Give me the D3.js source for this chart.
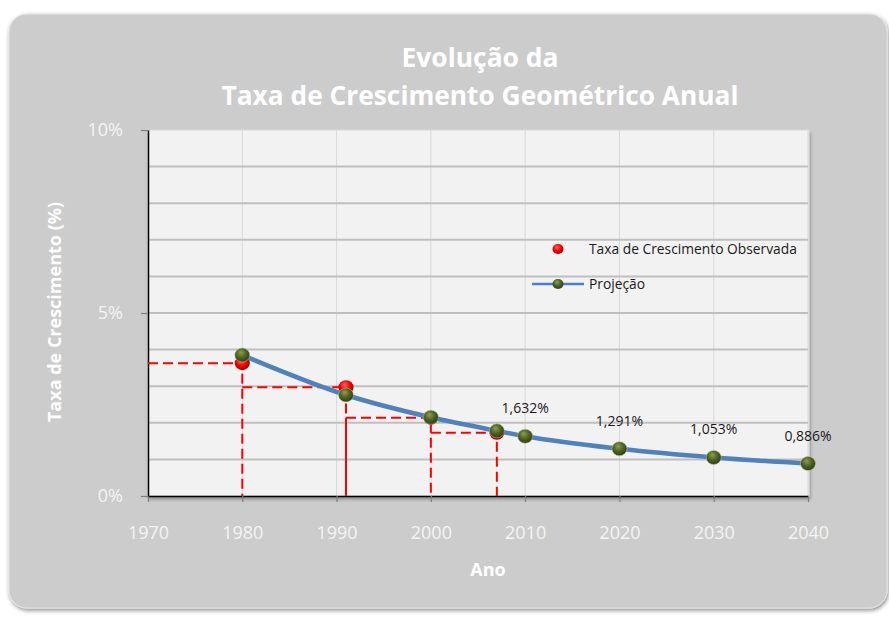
<!DOCTYPE html>
<html>
<head>
<meta charset="utf-8">
<script src="https://cdn.jsdelivr.net/npm/d3@7"></script>
<style>
  body { margin: 0; background: #fff; }
  svg { display: block; font-family: "Open Sans", sans-serif; }
</style>
</head>
<body>
<div id="chart"></div>
<script>
// anos das marcas do eixo x e rótulos do eixo y
const xTicks = [1970, 1980, 1990, 2000, 2010, 2020, 2030, 2040];
const yTicks = [0, 5, 10];

// taxa observada (%) nos censos
const obsYears = [1980, 1991, 2000, 2007];
const obsRates = [3.63, 2.97, 2.14, 1.73];

// projeção (%)
const projYears = [1980, 1991, 2000, 2007, 2010, 2020, 2030, 2040];
const projRates = [3.85, 2.76, 2.15, 1.78, 1.632, 1.291, 1.053, 0.886];
const labeledYears = [2010, 2020, 2030, 2040];

const width = 889, height = 619;
const plot = {left: 148, right: 808, top: 130, bottom: 496};

const x = d3.scaleLinear().domain([1970, 2040]).range([plot.left, plot.right]);
const y = d3.scaleLinear().domain([0, 10]).range([plot.bottom, plot.top]);

const ptBR = d3.formatLocale({decimal: ",", thousands: ".", grouping: [3], currency: ["R$", ""]});
const fmtLabel = v => ptBR.format(".3f")(v) + "%";

const svg = d3.select("#chart").append("svg")
    .attr("width", width)
    .attr("height", height);

const defs = svg.append("defs");

const shadow = defs.append("filter").attr("id", "shadow")
    .attr("x", "-5%").attr("y", "-5%").attr("width", "110%").attr("height", "112%");
shadow.append("feDropShadow")
    .attr("dx", 1).attr("dy", 2).attr("stdDeviation", 2)
    .attr("flood-color", "#000").attr("flood-opacity", 0.45);

const plotShadow = defs.append("filter").attr("id", "plotShadow")
    .attr("x", "-5%").attr("y", "-5%").attr("width", "110%").attr("height", "115%");
plotShadow.append("feDropShadow")
    .attr("dx", 1).attr("dy", 3).attr("stdDeviation", 1.5)
    .attr("flood-color", "#000").attr("flood-opacity", 0.3);

function ball(id, light, mid, dark) {
    const g = defs.append("radialGradient").attr("id", id)
        .attr("cx", "45%").attr("cy", "40%").attr("r", "60%")
        .attr("fx", "40%").attr("fy", "30%");
    g.append("stop").attr("offset", "0%").attr("stop-color", light);
    g.append("stop").attr("offset", "55%").attr("stop-color", mid);
    g.append("stop").attr("offset", "100%").attr("stop-color", dark);
}
ball("green", "#8aa34a", "#4f6228", "#2f3d14");
ball("red", "#ff6a6a", "#ff0000", "#a00000");

// fundo do gráfico
svg.append("rect")
    .attr("x", 9).attr("y", 14)
    .attr("width", 878).attr("height", 594)
    .attr("rx", 18)
    .attr("fill", "#cccccc")
    .attr("stroke", "#e4e4e4")
    .attr("filter", "url(#shadow)");

svg.append("rect")
    .attr("x", plot.left).attr("y", plot.top)
    .attr("width", plot.right - plot.left + 1).attr("height", plot.bottom - plot.top)
    .attr("fill", "#f2f2f2")
    .attr("stroke", "#d9d9d9")
    .attr("filter", "url(#plotShadow)");

// grades
svg.append("g").selectAll("line")
    .data(xTicks.slice(1))
    .join("line")
    .attr("x1", d => x(d)).attr("x2", d => x(d))
    .attr("y1", plot.top).attr("y2", plot.bottom)
    .attr("stroke", "#d9d9d9").attr("stroke-width", 1);

svg.append("g").selectAll("line")
    .data(d3.range(1, 10))
    .join("line")
    .attr("x1", plot.left).attr("x2", plot.right)
    .attr("y1", d => y(d)).attr("y2", d => y(d))
    .attr("stroke", "#bfbfbf").attr("stroke-width", 2);

// eixos
const xAxis = svg.append("g")
    .attr("transform", `translate(0,${plot.bottom})`)
    .call(d3.axisBottom(x).tickValues(xTicks).tickFormat(d3.format("d")).tickSize(6).tickSizeOuter(0).tickPadding(24));

const yAxis = svg.append("g")
    .attr("transform", `translate(${plot.left},0)`)
    .call(d3.axisLeft(y).tickValues(yTicks).tickFormat(d => d + "%").tickSize(7).tickSizeOuter(0).tickPadding(18));

[xAxis, yAxis].forEach(ax => {
    ax.attr("font-family", null).attr("font-size", null);
    ax.select(".domain").attr("stroke", "#000").attr("stroke-width", 1.5);
    ax.selectAll(".tick line").attr("stroke", "#7f7f7f").attr("stroke-width", 1.2);
    ax.selectAll(".tick text").attr("fill", "#f4f4f4").attr("font-size", 18);
});

// linhas-guia tracejadas dos censos
const guides = svg.append("g")
    .attr("fill", "none")
    .attr("stroke", "#ff0000")
    .attr("stroke-width", 2);

guides.selectAll("path")
    .data(obsYears)
    .join("path")
    .attr("stroke-dasharray", "10,5")
    .attr("d", (d, i) => {
        const prev = i === 0 ? 1970 : obsYears[i - 1];
        return `M${x(prev)},${y(obsRates[i])}H${x(d)}V${y(0)}`;
    });

// trecho contínuo em 1991
guides.append("path")
    .attr("d", `M${x(1991)},${y(0)}V${y(obsRates[2])}`);

// curva de projeção
const projData = projYears.map((d, i) => ({year: d, rate: projRates[i]}));
const line = d3.line()
    .x(d => x(d.year))
    .y(d => y(d.rate))
    .curve(d3.curveMonotoneX);

svg.append("path")
    .datum(projData)
    .attr("fill", "none")
    .attr("stroke", "#4f81bd")
    .attr("stroke-width", 4.5)
    .attr("stroke-linecap", "round")
    .attr("d", line);

// marcadores observados
svg.append("g").selectAll("ellipse")
    .data(obsYears.map((d, i) => ({year: d, rate: obsRates[i]})))
    .join("ellipse")
    .attr("cx", d => x(d.year))
    .attr("cy", d => y(d.rate))
    .attr("rx", 7.5).attr("ry", 7)
    .attr("fill", "url(#red)");

// marcadores de projeção
svg.append("g").selectAll("ellipse")
    .data(projData)
    .join("ellipse")
    .attr("cx", d => x(d.year))
    .attr("cy", d => y(d.rate))
    .attr("rx", 7.5).attr("ry", 7)
    .attr("fill", "url(#green)")
    .attr("stroke", "#b5c98a").attr("stroke-width", 0.8).attr("stroke-opacity", 0.7);

// rótulos de dados
svg.append("g").selectAll("text")
    .data(projData.filter(d => labeledYears.includes(d.year)))
    .join("text")
    .attr("x", d => x(d.year))
    .attr("y", d => y(d.rate) - 23)
    .attr("text-anchor", "middle")
    .attr("font-size", 14)
    .attr("fill", "#1a1a1a")
    .text(d => fmtLabel(d.rate));

// legenda
const legend = svg.append("g").attr("font-size", 13.8).attr("fill", "#1a1a1a");
legend.append("ellipse")
    .attr("cx", 558).attr("cy", 249).attr("rx", 5.5).attr("ry", 5)
    .attr("fill", "url(#red)");
legend.append("text").attr("x", 589).attr("y", 254).text("Taxa de Crescimento Observada");
legend.append("line")
    .attr("x1", 532).attr("x2", 584).attr("y1", 284).attr("y2", 284)
    .attr("stroke", "#4f81bd").attr("stroke-width", 2.5);
legend.append("ellipse")
    .attr("cx", 558).attr("cy", 284).attr("rx", 5.5).attr("ry", 5)
    .attr("fill", "url(#green)");
legend.append("text").attr("x", 589).attr("y", 289).text("Projeção");

// títulos
function fit(sel, w) {
    const len = sel.node().getComputedTextLength();
    if (len > w) sel.attr("textLength", w).attr("lengthAdjust", "spacingAndGlyphs");
}

const title = svg.append("g")
    .attr("text-anchor", "middle")
    .attr("font-weight", "bold")
    .attr("font-size", 27)
    .attr("fill", "#fff");
fit(title.append("text").attr("x", 480).attr("y", 67).text("Evolução da"), 157);
fit(title.append("text").attr("x", 480).attr("y", 105).text("Taxa de Crescimento Geométrico Anual"), 517);

svg.append("text")
    .attr("x", 488).attr("y", 576)
    .attr("text-anchor", "middle")
    .attr("font-weight", "bold")
    .attr("font-size", 18)
    .attr("fill", "#fff")
    .text("Ano");

const yTitle = svg.append("text")
    .attr("transform", `translate(61,312) rotate(-90)`)
    .attr("text-anchor", "middle")
    .attr("font-weight", "bold")
    .attr("font-size", 18)
    .attr("fill", "#fff")
    .text("Taxa de Crescimento (%)");
fit(yTitle, 245);
</script>
</body>
</html>
